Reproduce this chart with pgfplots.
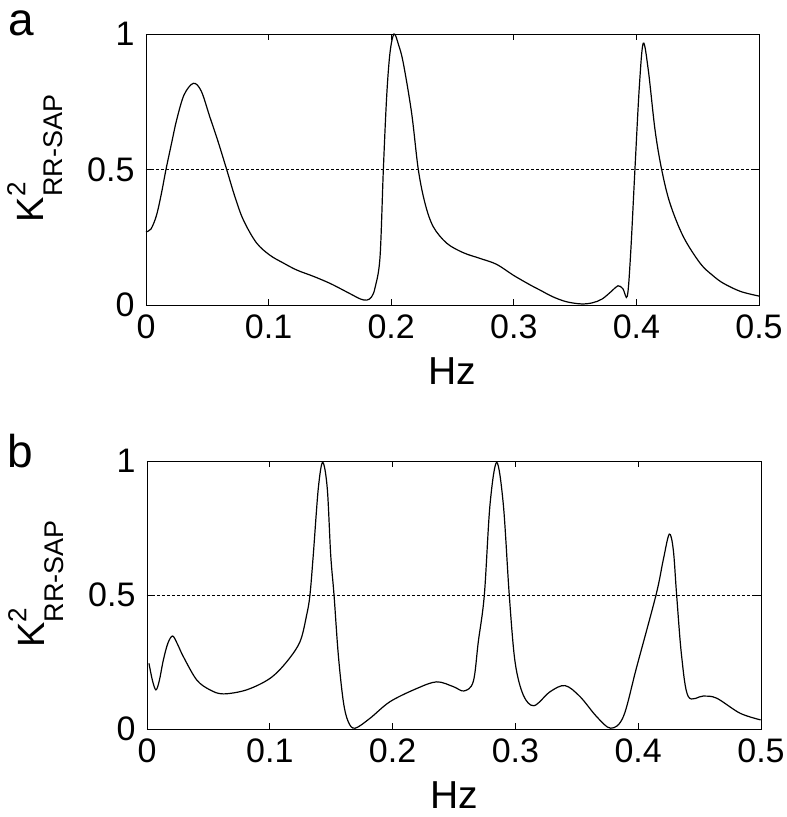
\documentclass[border=0pt]{standalone}
\usepackage{fontspec}
\setmainfont{Liberation Sans}
\usepackage{pgfplots}
\pgfplotsset{compat=1.18}
\newcommand\klab{\fontsize{38}{44}\selectfont K\makebox[0pt][l]{\raisebox{18pt}{\fontsize{26}{30}\selectfont 2}}\raisebox{-19pt}{\fontsize{27}{30}\selectfont RR-SAP}}
\pgfplotsset{myax/.style={
  scale only axis, xmin=0, xmax=0.5, ymin=0, ymax=1,
  xtick={0,0.1,0.2,0.3,0.4,0.5}, xticklabels={0,0.1,0.2,0.3,0.4,0.5},
  ytick={0,0.5,1}, yticklabels={0,0.5,1},
  tick align=inside, major tick length=6pt,
  tick style={black, line width=0.8pt},
  axis line style={black, line width=0.9pt},
  ticklabel style={font=\fontsize{34}{40}\selectfont},
  xticklabel style={yshift=-6pt},
  yticklabel style={xshift=-8pt},
  xlabel={Hz},
  xlabel style={font=\fontsize{39}{44}\selectfont, at={([yshift=-66pt]rel axis cs:0.5,0)}, anchor=center},
  ylabel={\klab},
  ylabel style={at={([xshift=-111pt,yshift=11pt]rel axis cs:0,0.5)}, anchor=center},
  clip=false,
}}
\begin{document}
\begin{tikzpicture}
\path[use as bounding box] (0pt,0pt) rectangle (787pt,-817pt);
\begin{axis}[myax, at={(146pt,-305pt)}, anchor=south west, width=613pt, height=271pt]
\addplot[black, line width=1.2pt, smooth, tension=0.55] coordinates {
(0,0.27) (0.004,0.28) (0.0085,0.33) (0.0125,0.41) (0.0163,0.5) (0.021,0.6) (0.025,0.683) (0.031,0.775) (0.0386,0.818)
(0.045,0.79) (0.052,0.695) (0.059,0.6) (0.0658,0.5) (0.0725,0.4) (0.0794,0.314) (0.09,0.23) (0.101,0.184) (0.112,0.155)
(0.123,0.129) (0.137,0.105) (0.150,0.08) (0.160,0.057) (0.168,0.038) (0.175,0.022) (0.180,0.018) (0.184,0.03) (0.187,0.067)
(0.1909,0.178) (0.1936,0.5) (0.1963,0.769) (0.199,0.93) (0.2023,1.0) (0.206,0.96) (0.2099,0.892) (0.2167,0.707) (0.2221,0.5)
(0.2276,0.375) (0.2343,0.289) (0.2453,0.228) (0.2588,0.193) (0.2724,0.172) (0.286,0.15) (0.2996,0.11) (0.313,0.075)
(0.3214,0.055) (0.332,0.03) (0.343,0.012) (0.355,0.004) (0.364,0.008) (0.372,0.022) (0.380,0.052) (0.385,0.071)
(0.389,0.06) (0.3926,0.033) (0.3953,0.19) (0.3988,0.5) (0.4024,0.806) (0.4056,0.966) (0.4097,0.867) (0.4152,0.646) (0.4206,0.5)
(0.4274,0.375) (0.4383,0.252) (0.452,0.154) (0.462,0.11) (0.471,0.08) (0.485,0.05) (0.5,0.033)
};
\addplot[black, line width=0.8pt, dash pattern=on 3pt off 2pt] coordinates {(0,0.5) (0.5,0.5)};
\node[anchor=base west, inner sep=0, font=\fontsize{46}{50}\selectfont] at ([xshift=-138pt,yshift=-1pt]rel axis cs:0,1) {a};
\end{axis}
\begin{axis}[myax, at={(147pt,-729pt)}, anchor=south west, width=614pt, height=268pt]
\addplot[black, line width=1.2pt, smooth, tension=0.55] coordinates {
(0.0016,0.245) (0.0045,0.18) (0.0073,0.146) (0.0100,0.18) (0.0133,0.257) (0.017,0.32) (0.0209,0.347) (0.025,0.315) (0.0296,0.27)
(0.0405,0.183) (0.0513,0.146) (0.0621,0.131) (0.0811,0.146) (0.1002,0.189) (0.1138,0.251) (0.1246,0.326) (0.130,0.425)
(0.1327,0.5) (0.1354,0.649) (0.1395,0.898) (0.1431,0.995) (0.1468,0.898) (0.1496,0.649) (0.1523,0.5) (0.1558,0.276)
(0.1599,0.102) (0.1639,0.027) (0.1694,0.003) (0.1816,0.04) (0.1979,0.102) (0.2196,0.151) (0.2359,0.176) (0.2495,0.158)
(0.2581,0.142) (0.2657,0.177) (0.2698,0.326) (0.2747,0.5) (0.2793,0.836) (0.2848,0.995) (0.2902,0.836) (0.295,0.5)
(0.2997,0.251) (0.3064,0.127) (0.3151,0.087) (0.3282,0.139) (0.3404,0.162) (0.3526,0.121) (0.3662,0.046) (0.3776,0.003)
(0.3879,0.046) (0.3988,0.232) (0.4145,0.5) (0.4204,0.631) (0.4253,0.727) (0.4286,0.668) (0.4313,0.5) (0.4354,0.27)
(0.4408,0.121) (0.453,0.123) (0.4639,0.115) (0.4829,0.059) (0.4997,0.034)
};
\addplot[black, line width=0.8pt, dash pattern=on 3pt off 2pt] coordinates {(0,0.5) (0.5,0.5)};
\node[anchor=base west, inner sep=0, font=\fontsize{46}{50}\selectfont] at ([xshift=-140pt,yshift=-6pt]rel axis cs:0,1) {b};
\end{axis}
\end{tikzpicture}
\end{document}
